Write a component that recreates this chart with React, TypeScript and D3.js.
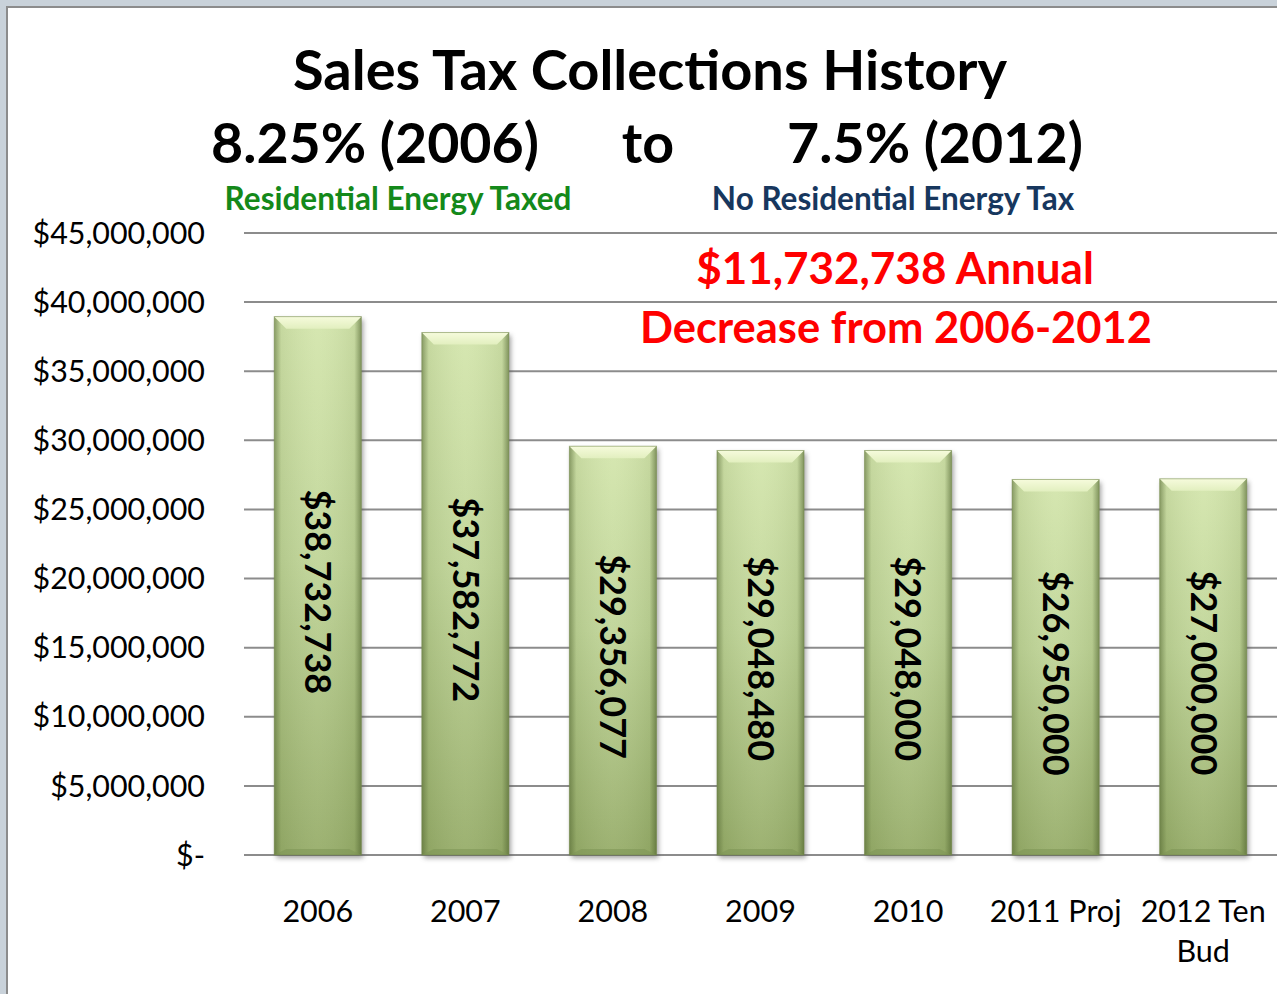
import React from "react";
import * as d3 from "d3";

const categories = ["2006", "2007", "2008", "2009", "2010", "2011 Proj", "2012 Ten\nBud"];
const collections = [38732738, 37582772, 29356077, 29048480, 29048000, 26950000, 27000000];
const yTicks = [0, 5e6, 10e6, 15e6, 20e6, 25e6, 30e6, 35e6, 40e6, 45e6];

const W = 1277;
const H = 994;
const FONT = "Lato, 'Open Sans', sans-serif";

const App: React.FC = () => {
  const x = d3
    .scaleBand<string>()
    .domain(categories)
    .range([244, 1277])
    .paddingInner(0.41)
    .paddingOuter(0.205);

  const y = d3.scaleLinear().domain([0, 45e6]).range([855, 233]);

  const money = (v: number) => (v === 0 ? "$-" : "$" + d3.format(",")(v));
  const bw = x.bandwidth();

  return (
    <svg
      width={W}
      height={H}
      style={{ position: "absolute", left: 0, top: 0, display: "block" }}
      fontFamily={FONT}
    >
      <defs>
        <linearGradient id="barV" x1="0" y1="0" x2="0" y2="1">
          <stop offset="0" stopColor="#d4e6ad" />
          <stop offset="0.45" stopColor="#c0d598" />
          <stop offset="1" stopColor="#97ad6a" />
        </linearGradient>
        <linearGradient id="barH" x1="0" y1="0" x2="1" y2="0">
          <stop offset="0" stopColor="#4a5e2a" stopOpacity="0.55" />
          <stop offset="0.08" stopColor="#4a5e2a" stopOpacity="0.1" />
          <stop offset="0.5" stopColor="#ffffff" stopOpacity="0.05" />
          <stop offset="0.92" stopColor="#4a5e2a" stopOpacity="0.1" />
          <stop offset="1" stopColor="#4a5e2a" stopOpacity="0.6" />
        </linearGradient>
        <linearGradient id="bevelTop" x1="0" y1="0" x2="0" y2="1">
          <stop offset="0" stopColor="#f6fbdc" />
          <stop offset="1" stopColor="#e2efbf" />
        </linearGradient>
        <filter id="shadow" x="-20%" y="-5%" width="140%" height="115%">
          <feGaussianBlur stdDeviation="2.5" />
        </filter>
      </defs>

      {/* frame */}
      <rect x={0} y={0} width={W} height={H} fill="#c9d2da" />
      <rect x={6} y={6} width={W - 6} height={H - 6} fill="#8c8c8c" />
      <rect x={8} y={8} width={W - 8} height={H - 8} fill="#ffffff" />

      {/* titles */}
      <text x={650} y={90} textAnchor="middle" fontSize={56} fontWeight="bold" fill="#000">
        Sales Tax Collections History
      </text>
      <text x={375} y={163} textAnchor="middle" fontSize={55.5} fontWeight="bold" fill="#000">
        8.25% (2006)
      </text>
      <text x={648} y={163} textAnchor="middle" fontSize={55.5} fontWeight="bold" fill="#000">
        to
      </text>
      <text x={935} y={163} textAnchor="middle" fontSize={55.5} fontWeight="bold" fill="#000">
        7.5% (2012)
      </text>
      <text x={398} y={210} textAnchor="middle" fontSize={31.5} fontWeight="bold" fill="#14891a">
        Residential Energy Taxed
      </text>
      <text x={893} y={210} textAnchor="middle" fontSize={31.5} fontWeight="bold" fill="#17375e">
        No Residential Energy Tax
      </text>

      {/* gridlines */}
      {yTicks.map((t) => (
        <line key={t} x1={244} x2={W} y1={y(t)} y2={y(t)} stroke="#8c8c8c" strokeWidth={2} />
      ))}

      {/* y axis labels */}
      {yTicks.map((t) => (
        <text
          key={"l" + t}
          x={205}
          y={y(t)}
          dy="0.35em"
          textAnchor="end"
          fontSize={30.4}
          fill="#000"
        >
          {money(t)}
        </text>
      ))}

      {/* bars */}
      {categories.map((c, i) => {
        const x0 = x(c) as number;
        const y0 = y(collections[i]) - 3;
        const h = y(0) - y0;
        const bev = 12;
        return (
          <g key={c}>
            <rect x={x0 + 2} y={y0 + 3} width={bw} height={h} fill="#555" opacity={0.55} filter="url(#shadow)" />
            <rect x={x0} y={y0} width={bw} height={h} fill="url(#barV)" />
            <rect x={x0} y={y0} width={bw} height={h} fill="url(#barH)" />
            <path
              d={`M${x0},${y0}H${x0 + bw}L${x0 + bw - bev},${y0 + bev}H${x0 + bev}Z`}
              fill="url(#bevelTop)"
            />
            <path
              d={`M${x0},${y0 + h}H${x0 + bw}L${x0 + bw - bev},${y0 + h - 6}H${x0 + bev}Z`}
              fill="#7f9656"
              opacity={0.6}
            />
            <rect x={x0} y={y0} width={bw} height={h} fill="none" stroke="#6f8548" strokeOpacity={0.5} strokeWidth={1} />
            <text
              transform={`translate(${x0 + bw / 2},${y0 + h / 2 + 6}) rotate(90)`}
              textAnchor="middle"
              dy="0.35em"
              fontSize={36}
              fontWeight="bold"
              fill="#000"
            >
              {money(collections[i])}
            </text>
          </g>
        );
      })}

      {/* x axis labels */}
      {categories.map((c) => {
        const cx = (x(c) as number) + bw / 2;
        return (
          <text key={"x" + c} x={cx} y={922} textAnchor="middle" fontSize={30.5} fill="#000">
            {c.split("\n").map((line, k) => (
              <tspan key={k} x={cx} dy={k === 0 ? 0 : 40}>
                {line}
              </tspan>
            ))}
          </text>
        );
      })}

      {/* annotation */}
      <text x={895} y={284} textAnchor="middle" fontSize={44} fontWeight="bold" fill="#ff0000">
        $11,732,738 Annual
      </text>
      <text x={896} y={343} textAnchor="middle" fontSize={43.5} fontWeight="bold" fill="#ff0000">
        Decrease from 2006-2012
      </text>
    </svg>
  );
};

export default App;
